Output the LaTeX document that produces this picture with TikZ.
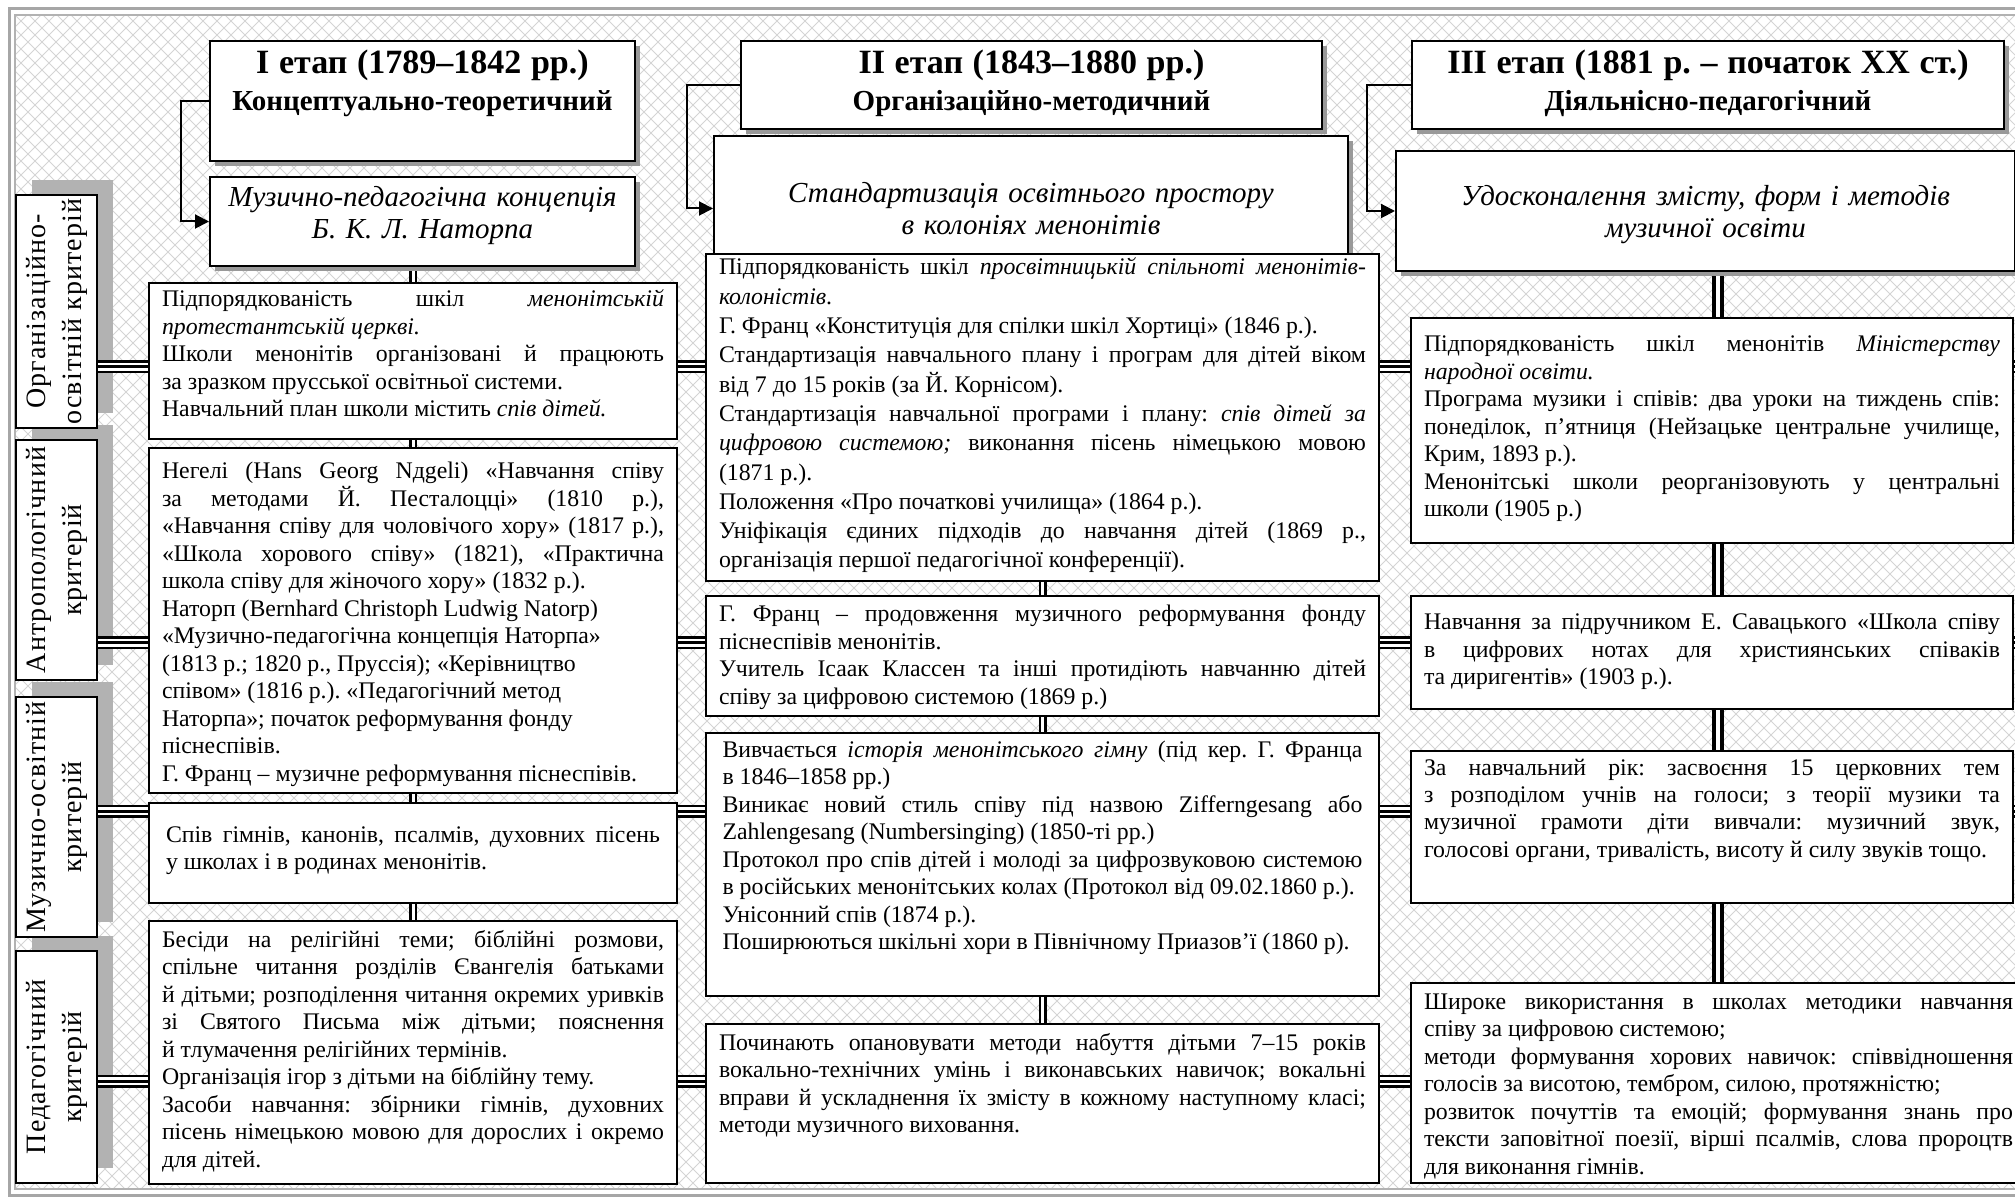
\documentclass[tikz,border=0pt]{standalone}
\usepackage{fontspec}
\setmainfont{Liberation Serif}
\newfontfamily\critfont{Liberation Serif}[LetterSpace=4]
\usetikzlibrary{arrows.meta,shadows}
\pgfdeclarelayer{back}
\pgfdeclarelayer{conn}
\pgfsetlayers{back,conn,main}
\hyphenpenalty=10000
\exhyphenpenalty=10000
\frenchspacing
\newcommand\crittext[1]{\critfont\fontsize{14}{17.5}\selectfont\begin{tabular}{@{}c@{}}#1\end{tabular}}

\tikzset{
  cell/.style={draw, line width=1pt, fill=white, anchor=north west, inner xsep=6.5pt, inner ysep=0pt, align=justify, font=\fontsize{11.9}{13.75}\selectfont},
  head/.style={draw, line width=1pt, fill=white, anchor=north west, inner sep=0pt, align=center, font=\bfseries\fontsize{14.5}{18.5}\selectfont, general shadow={fill=black!40, shadow xshift=2.5pt, shadow yshift=-2.5pt}},
  theme/.style={head, font=\itshape\fontsize{14.5}{16}\selectfont},
  crit/.style={draw, line width=1pt, fill=white, inner sep=0pt, general shadow={fill=black!30, shadow xshift=8pt, shadow yshift=7.5pt}},
  hatch/.style={black!17, line width=0.4pt},
  triple/.style={line width=6.5pt, postaction={draw=white, line width=4pt}, postaction={draw=black, line width=1.5pt}},
  dline/.style={line width=4pt, postaction={draw=white, line width=1.5pt}},
  wline/.style={line width=6pt, postaction={draw=white, line width=2pt}},
  arr/.style={line width=1pt, -{Triangle[length=7pt,width=7pt]}}
}

\begin{document}
\begin{tikzpicture}[x=0.5pt, y=-0.5pt]
  \useasboundingbox (0,0) rectangle (2015,1203);
  \begin{pgfonlayer}{back}
    \begin{scope}
      \clip (15,15) rectangle (2015,1189);
      \foreach \i in {-1190,-1176,...,2015} \draw[hatch] (\i,0) -- ++(1200,1200);
      \foreach \i in {0,14,...,3220} \draw[hatch] (\i,0) -- ++(-1200,1200);
    \end{scope}
    \draw[black!35, line width=1.5pt] (9,9) rectangle (2040,1195);
    \draw[black!30, line width=0.75pt] (15,15) rectangle (2040,1189);
  \end{pgfonlayer}

  \node[crit, minimum width=40.5pt, minimum height=116pt] (k4) at (56.5,1067) {\rotatebox{90}{\crittext{Педагогічний\\критерій}}};
  \node[crit, minimum width=40.5pt, minimum height=120pt] (k3) at (56.5,817) {\rotatebox{90}{\crittext{Музично-освітній\\критерій}}};
  \node[crit, minimum width=40.5pt, minimum height=120pt] (k2) at (56.5,560) {\rotatebox{90}{\crittext{Антропологічний\\критерій}}};
  \node[crit, minimum width=40.5pt, minimum height=116.5pt] (k1) at (56.5,311.5) {\rotatebox{90}{\crittext{Організаційно-\\освітній критерій}}};

  \coordinate (r1) at (2030,367);
  \coordinate (r2) at (2030,643);
  \coordinate (r3) at (2030,811);
  \coordinate (r4) at (2030,1081);
  \draw[triple] (k1.east |- r1) -- (r1);
  \draw[triple] (k2.east |- r2) -- (r2);
  \draw[triple] (k3.east |- r3) -- (r3);
  \draw[triple] (k4.east |- r4) -- (r4);

  \node[head, text width=212.5pt, text height=16.5pt, text depth=43.5pt] (h1) at (209,40) {{\fontsize{17}{18.5}\selectfont I етап (1789–1842 рр.)}\\Концептуально-теоретичний};
  \node[head, text width=290.5pt, text height=16.5pt, text depth=27.5pt] (h2) at (740,40) {{\fontsize{17}{18.5}\selectfont II етап (1843–1880 рр.)}\\Організаційно-методичний};
  \node[head, text width=296pt, text height=16.5pt, text depth=27.5pt] (h3) at (1411,40) {{\fontsize{17}{18.5}\selectfont III етап (1881 р. – початок XX ст.)}\\Діяльнісно-педагогічний};

  \node[theme, text width=212.5pt, text height=15pt, text depth=29.5pt] (i1) at (209,176) {Музично-педагогічна концепція\\Б. К. Л. Наторпа};
  \node[theme, text width=317pt, text height=33.5pt, text depth=39pt] (i2) at (713,135) {Стандартизація освітнього простору\\в колоніях менонітів};
  \node[theme, text width=309.5pt, text height=27.25pt, text depth=32.75pt] (i3) at (1395,150) {Удосконалення змісту, форм і методів\\музичної освіти};

  \draw[arr] (h1.west) -- ++(-28,0) |- (i1.west);
  \draw[arr] (h2.west) -- ++(-53,0) |- (i2.west);
  \draw[arr] (h3.west) -- ++(-44,0) |- (i3.west);

  \node[cell, text width=251pt, text height=12pt, text depth=66pt] (c1a) at (148,282) {Підпорядкованість шкіл \textit{менонітській}\linebreak
    \textit{протестантській церкві.}\\
    Школи менонітів організовані й~працюють\linebreak
    за зразком прусської освітньої системи.\\
    Навчальний план школи містить \textit{спів дітей.}};
  \node[cell, text width=251pt, text height=15.5pt, text depth=157pt] (c1b) at (148,447) {Негелі (Hans Georg Nдgeli) «Навчання співу\linebreak
    за методами Й.~Песталоцці» (1810~р.),\linebreak
    «Навчання співу для чоловічого хору» (1817~р.),\linebreak
    «Школа хорового співу» (1821), «Практична\linebreak
    школа співу для жіночого хору» (1832~р.).\\
    Наторп (Bernhard Christoph Ludwig Natorp)\\
    «Музично-педагогічна концепція Наторпа»\\
    (1813 р.; 1820 р., Пруссія); «Керівництво\\
    співом» (1816 р.). «Педагогічний метод\\
    Наторпа»; початок реформування фонду\\
    піснеспівів.\\
    Г. Франц – музичне реформування піснеспівів.};
  \node[cell, inner xsep=8.5pt, text width=247pt, text height=19.5pt, text depth=30.5pt] (c1c) at (148,802) {Спів гімнів, канонів, псалмів, духовних пісень\linebreak
    у~школах і в родинах менонітів.};
  \node[cell, text width=251pt, text height=13pt, text depth=118.5pt] (c1d) at (148,920) {Бесіди на релігійні теми; біблійні розмови,\linebreak
    спільне читання розділів Євангелія батьками\linebreak
    й дітьми; розподілення читання окремих уривків\linebreak
    зі~Святого Письма між дітьми; пояснення\linebreak
    й тлумачення релігійних термінів.\\
    Організація ігор з дітьми на біблійну тему.\\
    Засоби навчання: збірники гімнів, духовних\linebreak
    пісень німецькою мовою для дорослих і окремо\linebreak
    для дітей.};

  \node[cell, font=\fontsize{11.9}{14.65}\selectfont, text width=323.5pt, text height=10.5pt, text depth=153pt] (c2a) at (705,253) {Підпорядкованість шкіл \textit{просвітницькій спільноті менонітів-}\linebreak
    \textit{колоністів}.\\
    Г. Франц «Конституція для спілки шкіл Хортиці» (1846 р.).\\
    Стандартизація навчального плану і~програм для дітей віком\linebreak
    від 7 до 15 років (за Й. Корнісом).\\
    Стандартизація навчальної програми і~плану: \textit{спів дітей за}\linebreak
    \textit{цифровою системою;} виконання пісень німецькою мовою\linebreak
    (1871~р.).\\
    Положення «Про початкові училища» (1864 р.).\\
    Уніфікація єдиних підходів до~навчання дітей (1869~р.,\linebreak
    організація першої педагогічної конференції).};
  \node[cell, text width=323.5pt, text height=13pt, text depth=47pt] (c2b) at (705,595) {Г.~Франц – продовження музичного реформування фонду\linebreak
    піснеспівів менонітів.\\
    Учитель Ісаак Классен та інші протидіють навчанню дітей\linebreak
    співу за цифровою системою (1869 р.)};
  \node[cell, inner xsep=8.25pt, text width=320pt, text height=12pt, text depth=119.5pt] (c2c) at (705,732) {Вивчається \textit{історія менонітського гімну} (під кер. Г. Франца\linebreak
    в 1846–1858 рр.)\\
    Виникає новий стиль співу під назвою Zifferngesang або\linebreak
    Zahlengesang (Numbersinging) (1850-ті рр.)\\
    Протокол про спів дітей і молоді за цифрозвуковою системою\linebreak
    в російських менонітських колах (Протокол від 09.02.1860 р.).\\
    Унісонний спів (1874 р.).\\
    Поширюються шкільні хори в Північному Приазов’ї (1860 р).};
  \node[cell, text width=323.5pt, text height=13pt, text depth=66.5pt] (c2d) at (705,1023) {Починають опановувати методи набуття дітьми 7–15~років\linebreak
    вокально-технічних умінь і~виконавських навичок; вокальні\linebreak
    вправи й ускладнення їх змісту в кожному наступному класі;\linebreak
    методи музичного виховання.};

  \node[cell, text width=288pt, text height=17pt, text depth=95.5pt] (c3a) at (1410,317) {Підпорядкованість шкіл менонітів \textit{Міністерству}\linebreak
    \textit{народної освіти.}\\
    Програма музики і~співів: два уроки на тиждень спів:\linebreak
    понеділок, п’ятниця (Нейзацьке центральне училище,\linebreak
    Крим, 1893 р.).\\
    Менонітські школи реорганізовують у~центральні\linebreak
    школи (1905 р.)};
  \node[cell, text width=288pt, text height=17pt, text depth=39.5pt] (c3b) at (1410,595) {Навчання за~підручником Е.~Савацького «Школа співу\linebreak
    в~цифрових нотах для християнських співаків\linebreak
    та диригентів» (1903 р.).};
  \node[cell, text width=288pt, text height=12pt, text depth=64pt] (c3c) at (1410,750) {За~навчальний рік: засвоєння 15~церковних тем\linebreak
    з~розподілом учнів на~голоси; з~теорії музики та\linebreak
    музичної грамоти діти вивчали: музичний звук,\linebreak
    голосові органи, тривалість, висоту й силу звуків тощо.};
  \node[cell, text width=294.5pt, text height=13pt, text depth=87pt] (c3d) at (1410,982) {Широке використання в~школах методики навчання\linebreak
    співу за цифровою системою;\\
    методи формування хорових навичок: співвідношення\linebreak
    голосів за висотою, тембром, силою, протяжністю;\\
    розвиток почуттів та~емоцій; формування знань про\linebreak
    тексти заповітної поезії, вірші псалмів, слова пророцтв\linebreak
    для виконання гімнів.};

  \coordinate (v3) at ([xshift=3pt]c3a.north);
  \begin{pgfonlayer}{conn}
    \draw[dline] (c1a.north |- i1.south) -- (c1d.north);
    \draw[dline] (c2a.south) -- (c2d.north);
    \draw[wline] (v3 |- i3.south) -- (v3 |- c3d.north);
  \end{pgfonlayer}
\end{tikzpicture}
\end{document}
